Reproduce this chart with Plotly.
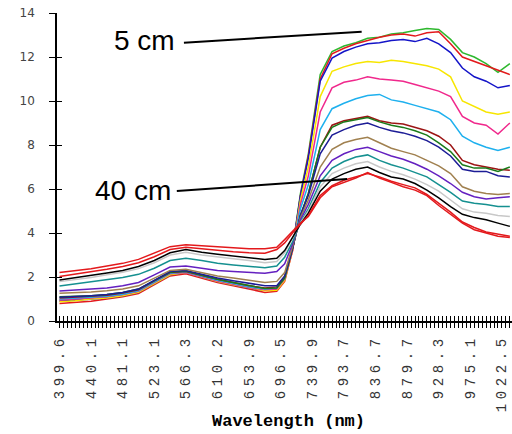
import plotly.graph_objects as go

# category index of each sampled point (categorical wavelength axis, one category per band)
band_index = [0, 4, 8, 12, 16, 20, 24, 28, 32, 36, 40, 44, 48, 52,
              55, 57, 59, 61, 63, 66,
              69, 72, 75, 78, 81, 84, 87, 90, 93, 96, 99, 102, 105, 108, 111, 114]

tick_index = [0, 8, 16, 24, 32, 40, 48, 56, 64, 72, 80, 88, 96, 104, 112]
tick_labels = ["399.6", "440.1", "481.1", "523.1", "566.3", "610.2", "653.9", "696.5",
               "739.9", "793.7", "836.7", "879.7", "928.3", "975.1", "1022.5"]

green = [0.95, 1.0, 1.05, 1.1, 1.2, 1.35, 1.75, 2.15, 2.2, 2.0, 1.8, 1.65, 1.5, 1.4,
         1.45, 1.9, 3.3, 5.8, 7.6, 11.2,
         12.25, 12.5, 12.65, 12.85, 12.9, 13.05, 13.1, 13.2, 13.3, 13.25, 12.8, 12.2, 12.0, 11.7, 11.3, 11.7]
red_5cm = [0.8, 0.85, 0.9, 1.0, 1.1, 1.25, 1.65, 2.05, 2.15, 1.95, 1.75, 1.6, 1.45, 1.3,
           1.35, 1.8, 3.2, 5.7, 7.5, 11.0,
           12.15, 12.4, 12.6, 12.75, 12.9, 13.0, 13.05, 12.95, 13.1, 13.15, 12.6, 12.0, 11.8, 11.6, 11.4, 11.2]
blue = [0.9, 0.95, 1.0, 1.05, 1.15, 1.3, 1.7, 2.1, 2.2, 2.0, 1.8, 1.65, 1.5, 1.4,
        1.45, 1.9, 3.3, 5.7, 7.4, 10.9,
        11.95, 12.25, 12.45, 12.6, 12.65, 12.75, 12.8, 12.7, 12.85, 12.6, 12.2, 11.5, 11.1, 10.9, 10.6, 10.7]
yellow = [0.88, 0.92, 1.0, 1.05, 1.15, 1.3, 1.7, 2.1, 2.2, 2.0, 1.8, 1.65, 1.5, 1.38,
          1.4, 1.85, 3.2, 5.5, 7.0, 10.2,
          11.35, 11.55, 11.7, 11.8, 11.75, 11.85, 11.8, 11.7, 11.6, 11.45, 11.1, 10.0, 9.75, 9.5, 9.4, 9.5]
pink = [0.95, 1.0, 1.05, 1.1, 1.2, 1.35, 1.75, 2.15, 2.2, 2.0, 1.82, 1.67, 1.52, 1.42,
        1.45, 1.9, 3.2, 5.3, 6.6, 9.5,
        10.6, 10.85, 10.95, 11.1, 11.0, 10.95, 10.9, 10.75, 10.6, 10.45, 10.2, 9.3, 9.0, 8.9, 8.5, 9.0]
sky = [1.0, 1.03, 1.07, 1.12, 1.22, 1.37, 1.77, 2.17, 2.23, 2.03, 1.85, 1.7, 1.55, 1.45,
       1.5, 1.95, 3.3, 5.1, 6.2, 8.7,
       9.65, 9.9, 10.1, 10.25, 10.3, 10.05, 9.95, 9.8, 9.65, 9.5, 9.15, 8.4, 8.1, 7.9, 7.75, 7.9]
dark_red = [1.05, 1.08, 1.12, 1.17, 1.27, 1.42, 1.82, 2.2, 2.25, 2.07, 1.9, 1.75, 1.6, 1.5,
            1.55, 2.0, 3.3, 4.8, 5.8, 7.9,
            8.9, 9.1, 9.2, 9.3, 9.1, 9.0, 8.95, 8.8, 8.65, 8.4, 8.0, 7.3, 7.1, 7.0, 6.9, 6.85]
dark_green = [1.1, 1.12, 1.15, 1.2, 1.3, 1.45, 1.85, 2.22, 2.27, 2.08, 1.9, 1.75, 1.6, 1.48,
              1.5, 1.95, 3.3, 4.8, 5.8, 7.9,
              8.8, 9.05, 9.15, 9.25, 9.05, 8.9, 8.8, 8.65, 8.45, 8.1, 7.7, 7.1, 6.95, 6.95, 6.8, 7.0]
navy = [1.08, 1.1, 1.15, 1.2, 1.3, 1.45, 1.85, 2.25, 2.3, 2.12, 1.95, 1.83, 1.72, 1.6,
        1.6, 2.05, 3.3, 4.8, 5.7, 7.6,
        8.45, 8.7, 8.9, 9.0, 8.8, 8.65, 8.55, 8.4, 8.2, 7.9, 7.5, 6.9, 6.8, 6.8, 6.6, 6.55]
brown = [1.26, 1.28, 1.32, 1.37, 1.45, 1.6, 1.95, 2.3, 2.35, 2.2, 2.05, 1.95, 1.85, 1.75,
         1.8, 2.2, 3.4, 4.7, 5.5, 7.0,
         7.8, 8.1, 8.25, 8.35, 8.1, 7.85, 7.7, 7.55, 7.3, 7.05, 6.7, 6.1, 5.9, 5.8, 5.75, 5.8]
purple = [1.36, 1.4, 1.45, 1.5, 1.6, 1.75, 2.1, 2.45, 2.5, 2.4, 2.3, 2.25, 2.22, 2.17,
          2.25, 2.6, 3.5, 4.6, 5.3, 6.6,
          7.3, 7.6, 7.8, 7.9, 7.7, 7.5, 7.35, 7.15, 6.9, 6.6, 6.25, 5.85, 5.65, 5.55, 5.6, 5.65]
teal = [1.59, 1.68, 1.77, 1.87, 1.98, 2.12, 2.4, 2.75, 2.85, 2.75, 2.62, 2.55, 2.5, 2.42,
        2.5, 2.9, 3.6, 4.5, 5.1, 6.3,
        6.95, 7.25, 7.45, 7.55, 7.3, 7.1, 6.95, 6.75, 6.55, 6.2, 5.85, 5.45, 5.35, 5.3, 5.2, 5.2]
gray = [1.79, 1.88, 1.98, 2.1, 2.22, 2.38, 2.65, 3.0, 3.12, 3.0, 2.9, 2.83, 2.75, 2.65,
        2.7, 3.1, 3.75, 4.45, 5.0, 6.1,
        6.7, 6.95, 7.15, 7.25, 7.0, 6.8, 6.65, 6.45, 6.2, 5.9, 5.5, 5.1, 4.95, 4.9, 4.8, 4.75]
black = [1.86, 1.96, 2.06, 2.18, 2.3, 2.48, 2.75, 3.1, 3.25, 3.12, 3.03, 2.96, 2.9, 2.8,
         2.85, 3.2, 3.8, 4.4, 4.9, 5.9,
         6.45, 6.7, 6.9, 7.0, 6.75, 6.55, 6.45, 6.25, 5.95, 5.6, 5.2, 4.85, 4.7, 4.6, 4.45, 4.3]
red_a = [2.02, 2.12, 2.22, 2.35, 2.48, 2.65, 2.92, 3.25, 3.35, 3.28, 3.2, 3.15, 3.1, 3.08,
         3.25, 3.55, 4.0, 4.4, 4.8, 5.7,
         6.15, 6.4, 6.55, 6.7, 6.55, 6.35, 6.2, 6.05, 5.75, 5.35, 4.95, 4.5, 4.25, 4.05, 3.95, 3.85]
red_b = [2.2, 2.28, 2.38, 2.5, 2.62, 2.8, 3.08, 3.38, 3.47, 3.42, 3.35, 3.3, 3.28, 3.28,
         3.35, 3.7, 4.1, 4.45, 4.75, 5.6,
         6.1, 6.3, 6.5, 6.75, 6.5, 6.3, 6.1, 5.95, 5.7, 5.25, 4.85, 4.45, 4.15, 4.0, 3.85, 3.8]

series = [
    (green, "#2eb82e"), (red_5cm, "#e3191c"), (blue, "#1414c8"), (yellow, "#f7e600"),
    (pink, "#f0288c"), (sky, "#1eb0ee"), (dark_red, "#9c1414"), (dark_green, "#1a7a1a"),
    (navy, "#1c1c96"), (brown, "#a0804f"), (purple, "#6420c0"), (teal, "#159090"),
    (gray, "#c8c8c8"), (black, "#000000"), (red_a, "#e3191c"), (red_b, "#e3191c"),
]

fig = go.Figure()
for vals, col in series:
    fig.add_trace(go.Scatter(x=band_index, y=vals, mode="lines",
                             line=dict(color=col, width=1.5), showlegend=False,
                             hoverinfo="skip"))

xr = [-0.63, 114.55]
spaced = ['<span style="letter-spacing:4.6px">%s</span>' % t for t in tick_labels]

fig.update_layout(
    width=512, height=434,
    margin=dict(l=57, r=0, t=13, b=113),
    paper_bgcolor="white", plot_bgcolor="white",
    xaxis=dict(range=xr, showgrid=False, zeroline=False, showline=True,
               linecolor="black", linewidth=1.5,
               tickmode="array", tickvals=tick_index, ticktext=spaced,
               tickangle=-90, ticks="outside", ticklen=5, tickcolor="black", tickwidth=1,
               minor=dict(tickmode="linear", tick0=0, dtick=1, ticks="outside",
                          ticklen=5, tickcolor="black", tickwidth=1, showgrid=False),
               tickfont=dict(family="Liberation Mono", size=14, color="#333333"),
               ticklabelstandoff=1),
    xaxis2=dict(range=xr, overlaying="x", anchor="y", side="bottom", showgrid=False,
                zeroline=False, showline=False, tickmode="linear", tick0=0, dtick=1,
                ticks="inside", ticklen=5, tickcolor="black", tickwidth=1,
                showticklabels=False),
    yaxis=dict(range=[0, 14], showgrid=False, zeroline=False, showline=True,
               linecolor="black", linewidth=1.5, tickmode="linear", tick0=0, dtick=2,
               ticks="outside", ticklen=6, tickcolor="black", tickwidth=1,
               tickfont=dict(family="DejaVu Sans", size=12, color="#444444"),
               ticklabelstandoff=12),
    yaxis2=dict(range=[0, 14], overlaying="y", anchor="x", side="left", showgrid=False,
                zeroline=False, showline=False, tickmode="linear", tick0=0, dtick=2,
                ticks="inside", ticklen=5, tickcolor="black", tickwidth=1,
                showticklabels=False),
    annotations=[
        dict(x=21.4, y=12.75, xref="x", yref="y", text="5 cm", showarrow=False,
             font=dict(family="Liberation Sans", size=28, color="black")),
        dict(x=18.6, y=5.95, xref="x", yref="y", text="40 cm", showarrow=False,
             font=dict(family="Liberation Sans", size=28, color="black")),
        dict(x=0.508, y=-0.325, xref="paper", yref="paper", text="<b>Wavelength (nm)</b>",
             showarrow=False, yanchor="middle",
             font=dict(family="Liberation Mono", size=17, color="black")),
    ],
    shapes=[
        dict(type="line", xref="x", yref="y", x0=31.5, y0=12.65, x1=76.5, y1=13.15,
             line=dict(color="black", width=2)),
        dict(type="line", xref="x", yref="y", x0=29.7, y0=5.91, x1=72.8, y1=6.45,
             line=dict(color="black", width=2)),
    ],
)
fig.add_trace(go.Scatter(x=[], y=[], xaxis="x2", yaxis="y2", showlegend=False))

fig.write_html("out.html")
